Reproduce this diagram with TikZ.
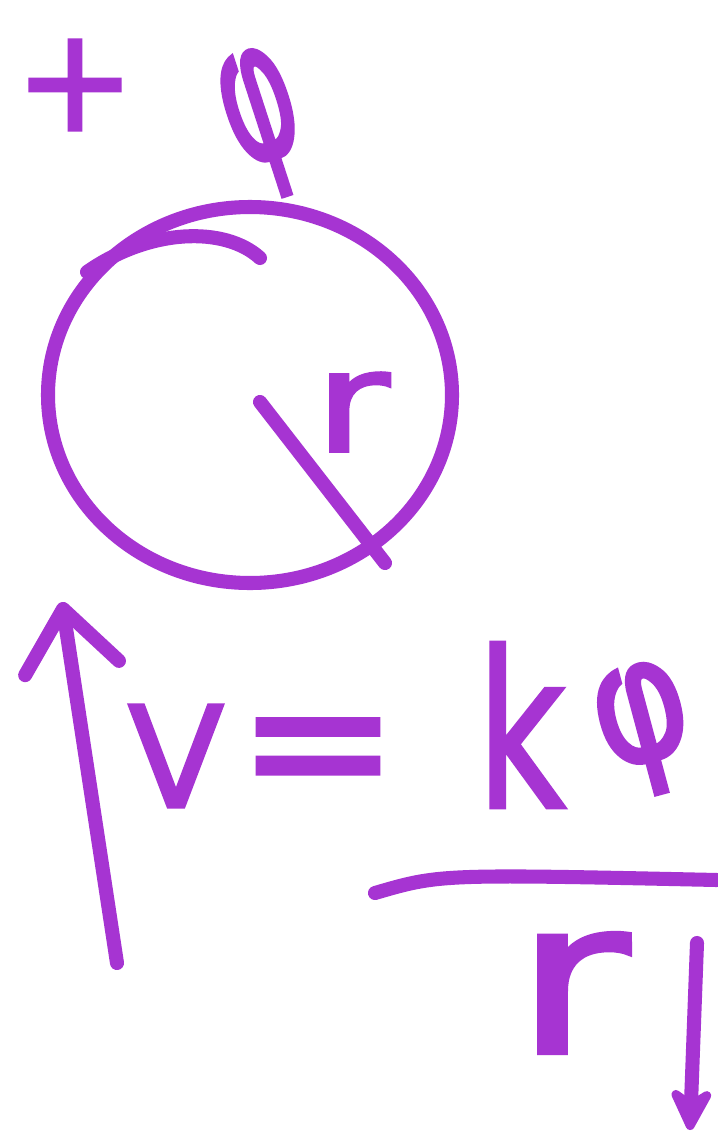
\documentclass[tikz,border=0pt]{standalone}
\usepackage{fontspec}
\usepackage{graphicx}
\usetikzlibrary{arrows.meta}
\newfontfamily\handfont[FakeBold=2]{DejaVu Sans}
\definecolor{ink}{HTML}{A634D2}
\newcommand\inksize[1]{\fontsize{#1}{#1}\selectfont}

\begin{document}
\begin{tikzpicture}[
  x=0.02cm, y=-0.02cm,
  pen/.style={draw=ink, line width=8pt, line cap=round, line join=round},
  glyph/.style={text=ink, inner sep=0pt, font=\handfont},
  uparr/.style={pen, -{Straight Barb[length=34pt, width=54pt, round]}},
  dnarr/.style={pen, -{Stealth[length=30pt, width=30pt, round]}},
]

% Page
\useasboundingbox[fill=white] (0,0) rectangle (717,1139);

% ---- Top: charge and flux ----
\node[glyph] (plus) at (75,85) {\inksize{82}+};
\node[glyph, rotate=18] (phi) at (264,124) {\scalebox{0.58}[1]{\inksize{112}φ}};

% ---- Circle with radius ----
\coordinate (ctr) at (260,402);
\coordinate (rim) at (385,563);
\draw[pen] (250,395) ellipse [x radius=202, y radius=188];
\draw[pen] (87,272) .. controls (150,228) and (225,226) .. (260,258);
\draw[pen] (ctr) -- (rim);
\node[glyph] (rad) at (352,412) {\scalebox{1.3}[1]{\inksize{80}r}};

% ---- Rising arrow ----
\coordinate (vtail) at (117,963);
\coordinate (vtip) at (62,602);
\draw[uparr] (vtail) -- (vtip);

% ---- Formula ----
\node[glyph] (V) at (176,756) {\inksize{80}V};
\node[glyph] (eq) at (318,763) {\inksize{110}=};
\node[glyph] (k) at (521,725) {\scalebox{0.7}[1]{\inksize{123}k}};
\node[glyph, rotate=15] (phinum) at (645,730) {\scalebox{0.85}[1]{\inksize{98}φ}};

% Fraction bar
\coordinate (barL) at (375,893);
\coordinate (barR) at (717,880);
\draw[pen] (barL) .. controls (440,874) .. (barR);

\node[glyph] (rden) at (572,993) {\scalebox{1.3}[1]{\inksize{122}r}};

% ---- Falling arrow ----
\coordinate (dtop) at (697,943);
\coordinate (dtip) at (690,1130);
\draw[dnarr] (dtop) -- (dtip);

\end{tikzpicture}
\end{document}
